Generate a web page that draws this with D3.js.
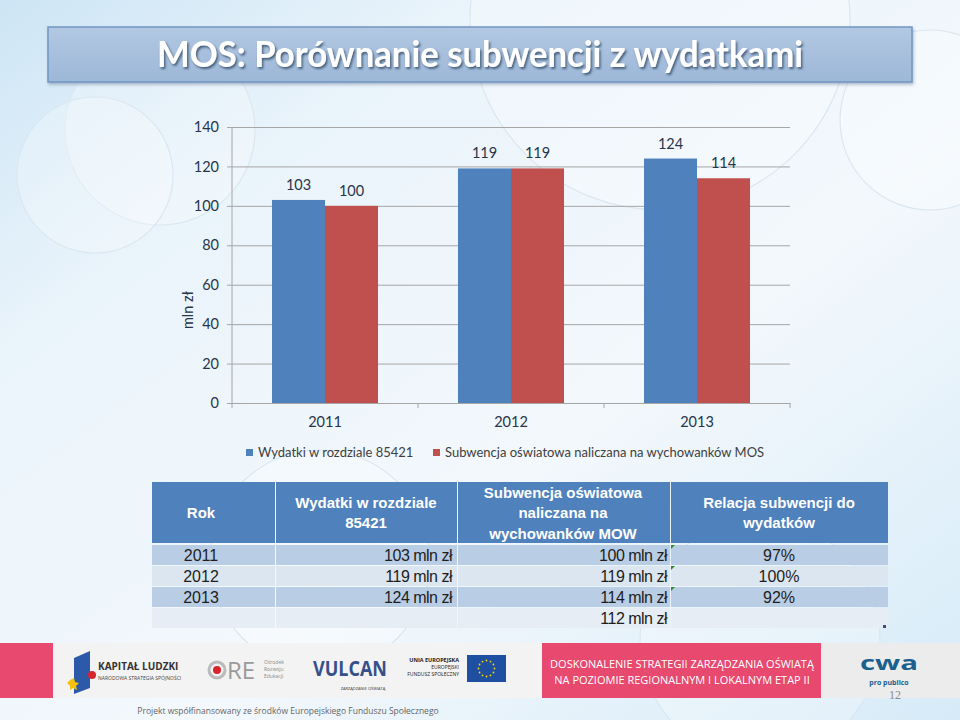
<!DOCTYPE html>
<html><head><meta charset="utf-8">
<script src="https://cdn.jsdelivr.net/npm/d3@7"></script>
<style>html,body{margin:0;padding:0;background:#fff;}svg{display:block;}</style>
</head><body>
<script>
// ---- data ----
const years = ["2011", "2012", "2013"];
const seriesNames = ["Wydatki w rozdziale 85421", "Subwencja oświatowa naliczana na wychowanków MOS"];
const wydatki = [103, 119, 124];
const subwencja = [100, 119, 114];
const yTicks = [0, 20, 40, 60, 80, 100, 120, 140];
const seriesColors = ["#4f81bd", "#c0504d"];
const title = "MOS: Porównanie subwencji z wydatkami";
const yTitle = "mln zł";
const tableHeader = [["Rok"], ["Wydatki w rozdziale", "85421"], ["Subwencja oświatowa", "naliczana na", "wychowanków MOW"], ["Relacja subwencji do", "wydatków"]];
const tableYears = ["2011", "2012", "2013", ""];
const tableWydatki = ["103 mln zł", "119 mln zł", "124 mln zł", ""];
const tableSubwencja = ["100 mln zł", "119 mln zł", "114 mln zł", "112 mln zł"];
const tableRelacja = ["97%", "100%", "92%", ""];

(function () {
const W = 960, H = 720;
const svg = d3.select("body").append("svg").attr("width", W).attr("height", H);
const defs = svg.append("defs");

// background
const bg = defs.append("linearGradient").attr("id", "bg").attr("x1", 0).attr("y1", 0).attr("x2", 1).attr("y2", 1);
bg.append("stop").attr("offset", "0").attr("stop-color", "#cde5f5");
bg.append("stop").attr("offset", "0.25").attr("stop-color", "#eaf4fb");
bg.append("stop").attr("offset", "0.6").attr("stop-color", "#f3f8fc");
bg.append("stop").attr("offset", "1").attr("stop-color", "#d6ebf8");
svg.append("rect").attr("width", W).attr("height", H).attr("fill", "url(#bg)");
const circ = [[160, 130, 95], [95, 175, 78], [660, 20, 190], [930, 120, 90], [760, 640, 120], [320, 560, 110]];
svg.append("g").selectAll("circle").data(circ).join("circle")
  .attr("cx", d => d[0]).attr("cy", d => d[1]).attr("r", d => d[2])
  .attr("fill", "#ffffff").attr("fill-opacity", 0.25).attr("stroke", "#dbe7f0").attr("stroke-width", 1.2);

// title
const tg = defs.append("linearGradient").attr("id", "tg").attr("x1", 0).attr("y1", 0).attr("x2", 0).attr("y2", 1);
tg.append("stop").attr("offset", "0").attr("stop-color", "#b2c8e2");
tg.append("stop").attr("offset", "1").attr("stop-color", "#9db7d8");
const sh = defs.append("filter").attr("id", "tsh").attr("x", "-5%").attr("y", "-20%").attr("width", "110%").attr("height", "150%");
sh.append("feDropShadow").attr("dx", 1.5).attr("dy", 2).attr("stdDeviation", 1.2).attr("flood-color", "#2a3f5c").attr("flood-opacity", 0.75);
const bsh = defs.append("filter").attr("id", "bsh").attr("x", "-5%").attr("y", "-20%").attr("width", "110%").attr("height", "150%");
bsh.append("feDropShadow").attr("dx", 1).attr("dy", 2).attr("stdDeviation", 1.5).attr("flood-color", "#6a7f99").attr("flood-opacity", 0.5);
svg.append("rect").attr("x", 48).attr("y", 27).attr("width", 864).attr("height", 55)
  .attr("fill", "url(#tg)").attr("stroke", "#7396c2").attr("stroke-width", 1.5).attr("filter", "url(#bsh)");
svg.append("text").attr("x", 480).attr("y", 67).attr("text-anchor", "middle")
  .attr("font-family", "Lato").attr("font-weight", "bold").attr("font-size", 36)
  .attr("textLength", 646).attr("lengthAdjust", "spacingAndGlyphs")
  .attr("fill", "#ffffff").attr("filter", "url(#tsh)").text(title);

// ---- chart ----
const pL = 232, pR = 790, pT = 127, pB = 403;
const x0 = d3.scaleBand().domain(years).range([pL, pR]).padding(0);
const x1 = d3.scaleBand().domain([0, 1]).range([x0.bandwidth() * 0.215, x0.bandwidth() * 0.785]).padding(0);
const y = d3.scaleLinear().domain([0, 140]).range([pB, pT]);
const txt = "#27354a";

const g = svg.append("g");
const yAxis = d3.axisLeft(y).tickValues(yTicks).tickSize(-(pR - pL)).tickPadding(10).tickSizeOuter(0);
const ya = g.append("g").attr("transform", `translate(${pL},0)`).call(yAxis);
ya.select(".domain").attr("stroke", "#a6a6a6").attr("d", `M0,${pT}V${pB}`);
ya.selectAll(".tick line").attr("stroke", "#a6a6a6").attr("x1", -5);
ya.selectAll(".tick text").attr("font-family", "Lato").attr("font-size", 14.5).attr("fill", txt).attr("x", -13);

const xa = g.append("g").attr("transform", `translate(0,${pB})`)
  .call(d3.axisBottom(x0).tickSize(0).tickPadding(14));
xa.select(".domain").attr("stroke", "#a6a6a6");
xa.selectAll(".tick text").attr("font-family", "Lato").attr("font-size", 14.5).attr("fill", txt);
const tickXs = years.map(d => x0(d)).concat([pR]);
g.append("g").selectAll("line").data(tickXs).join("line")
  .attr("x1", d => d).attr("x2", d => d)
  .attr("y1", pB).attr("y2", pB + 5).attr("stroke", "#a6a6a6");

// bars
const seriesVals = [wydatki, subwencja];
const barData = [];
years.forEach((yr, i) => seriesVals.forEach((vals, s) => barData.push({ yr, s, v: vals[i] })));
g.append("g").selectAll("rect").data(barData).join("rect")
  .attr("x", d => x0(d.yr) + x1(d.s)).attr("width", x1.bandwidth())
  .attr("y", d => y(d.v)).attr("height", d => y(0) - y(d.v))
  .attr("fill", d => seriesColors[d.s]);
g.append("g").selectAll("text").data(barData).join("text")
  .attr("x", d => x0(d.yr) + x1(d.s) + x1.bandwidth() / 2).attr("y", d => y(d.v) - 10)
  .attr("text-anchor", "middle").attr("font-family", "Lato").attr("font-size", 14.5).attr("fill", txt)
  .text(d => d.v);

g.append("text").attr("transform", `translate(193,310) rotate(-90)`).attr("text-anchor", "middle")
  .attr("font-family", "Lato").attr("font-size", 14.5).attr("fill", txt).text(yTitle);

// legend
const legX = [246, 433];
const lg = g.append("g").selectAll("g").data(seriesNames).join("g")
  .attr("transform", (d, i) => `translate(${legX[i]},449)`);
lg.append("rect").attr("width", 7).attr("height", 7).attr("fill", (d, i) => seriesColors[i]);
lg.append("text").attr("x", 12).attr("y", 8).attr("font-family", "Lato").attr("font-size", 13)
  .attr("fill", "#404040").text(d => d);

// ---- table ----
const colX = [152, 275, 457, 670, 888];
const hdrTop = 482, hdrBot = 543;
const tb = svg.append("g");
for (let c = 0; c < 4; c++) {
  tb.append("rect").attr("x", colX[c] + (c ? 1 : 0)).attr("y", hdrTop).attr("width", colX[c + 1] - colX[c] - (c ? 1 : 0)).attr("height", hdrBot - hdrTop).attr("fill", "#4f81bd");
}
const hdrCx = [201, 366, 563, 779];
tableHeader.forEach((lines, c) => {
  const n = lines.length, lh = 20.5, cy = (hdrTop + hdrBot) / 2;
  lines.forEach((ln, k) => {
    tb.append("text").attr("x", hdrCx[c]).attr("y", cy + (k - (n - 1) / 2) * lh + 5.5)
      .attr("text-anchor", "middle").attr("font-family", "Liberation Sans, Arial").attr("font-weight", "bold")
      .attr("font-size", 15).attr("fill", "#ffffff").text(ln);
  });
});
const rowTop = [545, 566, 587, 608];
const rowFill = ["#b9cde5", "#dce6f1", "#b9cde5", "#e6edf5"];
const cols = [tableYears, tableWydatki, tableSubwencja, tableRelacja];
const fam = "Liberation Sans, Arial";
rowTop.forEach((rt, r) => {
  for (let c = 0; c < 4; c++) {
    tb.append("rect").attr("x", colX[c] + (c ? 1 : 0)).attr("y", rt).attr("width", colX[c + 1] - colX[c] - (c ? 1 : 0)).attr("height", 20).attr("fill", rowFill[r]);
  }
  const ty = rt + 16;
  tb.append("text").attr("x", 201).attr("y", ty).attr("text-anchor", "middle").attr("font-family", fam).attr("font-size", 16).attr("fill", "#1e1e1e").text(cols[0][r]);
  tb.append("text").attr("x", 452).attr("y", ty).attr("text-anchor", "end").attr("font-family", fam).attr("font-size", 16).attr("letter-spacing", -0.5).attr("fill", "#1e1e1e").text(cols[1][r]);
  tb.append("text").attr("x", 667).attr("y", ty).attr("text-anchor", "end").attr("font-family", fam).attr("font-size", 16).attr("letter-spacing", -0.5).attr("fill", "#1e1e1e").text(cols[2][r]);
  tb.append("text").attr("x", 779).attr("y", ty).attr("text-anchor", "middle").attr("font-family", fam).attr("font-size", 16).attr("fill", "#1e1e1e").text(cols[3][r]);
  if (cols[3][r]) {
    tb.append("path").attr("d", `M${colX[3] + 1},${rt}h4l-4,4z`).attr("fill", "#2e8b2e");
  }
});
tb.append("rect").attr("x", 883).attr("y", 625).attr("width", 3).attr("height", 3).attr("fill", "#3b4f86");

// ---- footer ----
const ft = svg.append("g");
ft.append("rect").attr("x", 0).attr("y", 643).attr("width", W).attr("height", 55).attr("fill", "#f3f3f3");
ft.append("rect").attr("x", 0).attr("y", 643).attr("width", 53).attr("height", 55).attr("fill", "#e8496e");
ft.append("rect").attr("x", 542).attr("y", 643).attr("width", 279).attr("height", 55).attr("fill", "#e8496e");
ft.append("rect").attr("x", 821).attr("y", 643).attr("width", 139).attr("height", 55).attr("fill", "#ececec");
ft.append("text").attr("x", 682).attr("y", 668).attr("text-anchor", "middle").attr("font-family", "Open Sans").attr("font-size", 11).attr("fill", "#fff").text("DOSKONALENIE STRATEGII ZARZĄDZANIA OŚWIATĄ");
ft.append("text").attr("x", 682).attr("y", 684).attr("text-anchor", "middle").attr("font-family", "Open Sans").attr("font-size", 11).attr("fill", "#fff").text("NA POZIOMIE REGIONALNYM I LOKALNYM ETAP II");
ft.append("path").attr("d", "M74,658 L90,651 L90,688 L74,694 Z").attr("fill", "#2d5aa8");
ft.append("path").attr("d", "M70,680 l4,-2 l1,4 l4,1 l-3,3 l1,4 l-4,-2 l-3,2 l0,-4 l-3,-3 z").attr("fill", "#f4c20d");
ft.append("circle").attr("cx", 92).attr("cy", 675).attr("r", 4).attr("fill", "#d6262b");
ft.append("text").attr("x", 98).attr("y", 670).attr("font-family", "Open Sans").attr("font-weight", "bold").attr("font-size", 10).attr("fill", "#333").text("KAPITAŁ LUDZKI");
ft.append("text").attr("x", 98).attr("y", 680).attr("font-family", "Open Sans").attr("font-size", 5).attr("fill", "#444").text("NARODOWA STRATEGIA SPÓJNOŚCI");
ft.append("circle").attr("cx", 217).attr("cy", 670).attr("r", 8).attr("fill", "none").attr("stroke", "#bbbbbb").attr("stroke-width", 3);
ft.append("circle").attr("cx", 217).attr("cy", 670).attr("r", 4).attr("fill", "#d9232d");
ft.append("text").attr("x", 227).attr("y", 679).attr("font-family", "Open Sans").attr("font-size", 24).attr("fill", "#9a9a9a").text("RE");
["Ośrodek", "Rozwoju", "Edukacji"].forEach((t, i) => ft.append("text").attr("x", 264).attr("y", 664 + i * 7).attr("font-family", "Open Sans").attr("font-size", 5).attr("fill", "#888").text(t));
ft.append("text").attr("x", 350).attr("y", 676).attr("text-anchor", "middle").attr("font-family", "Open Sans").attr("font-weight", "bold").attr("font-size", 22).attr("textLength", 74).attr("lengthAdjust", "spacingAndGlyphs").attr("fill", "#36508a").text("VULCAN");
ft.append("text").attr("x", 363).attr("y", 690).attr("text-anchor", "middle").attr("font-family", "Open Sans").attr("font-size", 4).attr("fill", "#333").text("ZARZĄDZANIE OŚWIATĄ");
ft.append("text").attr("x", 459).attr("y", 662).attr("text-anchor", "end").attr("font-family", "Open Sans").attr("font-weight", "bold").attr("font-size", 5.5).attr("fill", "#222").text("UNIA EUROPEJSKA");
ft.append("text").attr("x", 459).attr("y", 669).attr("text-anchor", "end").attr("font-family", "Open Sans").attr("font-size", 5).attr("fill", "#222").text("EUROPEJSKI");
ft.append("text").attr("x", 459).attr("y", 676).attr("text-anchor", "end").attr("font-family", "Open Sans").attr("font-size", 5).attr("fill", "#222").text("FUNDUSZ SPOŁECZNY");
ft.append("rect").attr("x", 467).attr("y", 655).attr("width", 39).attr("height", 27).attr("fill", "#1f4fa0");
d3.range(12).forEach(k => {
  const a = k / 12 * 2 * Math.PI;
  ft.append("circle").attr("cx", 486.5 + 8 * Math.cos(a)).attr("cy", 668.5 + 8 * Math.sin(a)).attr("r", 0.9).attr("fill", "#ffd400");
});
ft.append("text").attr("x", 889).attr("y", 670).attr("text-anchor", "middle").attr("font-family", "Open Sans").attr("font-weight", "bold").attr("font-size", 20).attr("textLength", 58).attr("lengthAdjust", "spacingAndGlyphs").attr("fill", "#1b5f8f").text("cwa");
ft.append("text").attr("x", 889).attr("y", 685).attr("text-anchor", "middle").attr("font-family", "Open Sans").attr("font-weight", "bold").attr("font-size", 7).attr("fill", "#1b5f8f").text("pro publico");
ft.append("text").attr("x", 895).attr("y", 699).attr("text-anchor", "middle").attr("font-family", "Liberation Serif").attr("font-size", 12).attr("fill", "#8a8a8a").text("12");
ft.append("text").attr("x", 288).attr("y", 714).attr("text-anchor", "middle").attr("font-family", "Open Sans").attr("font-size", 8.5).attr("fill", "#666").text("Projekt współfinansowany ze środków Europejskiego Funduszu Społecznego");
})();
</script>
</body></html>
